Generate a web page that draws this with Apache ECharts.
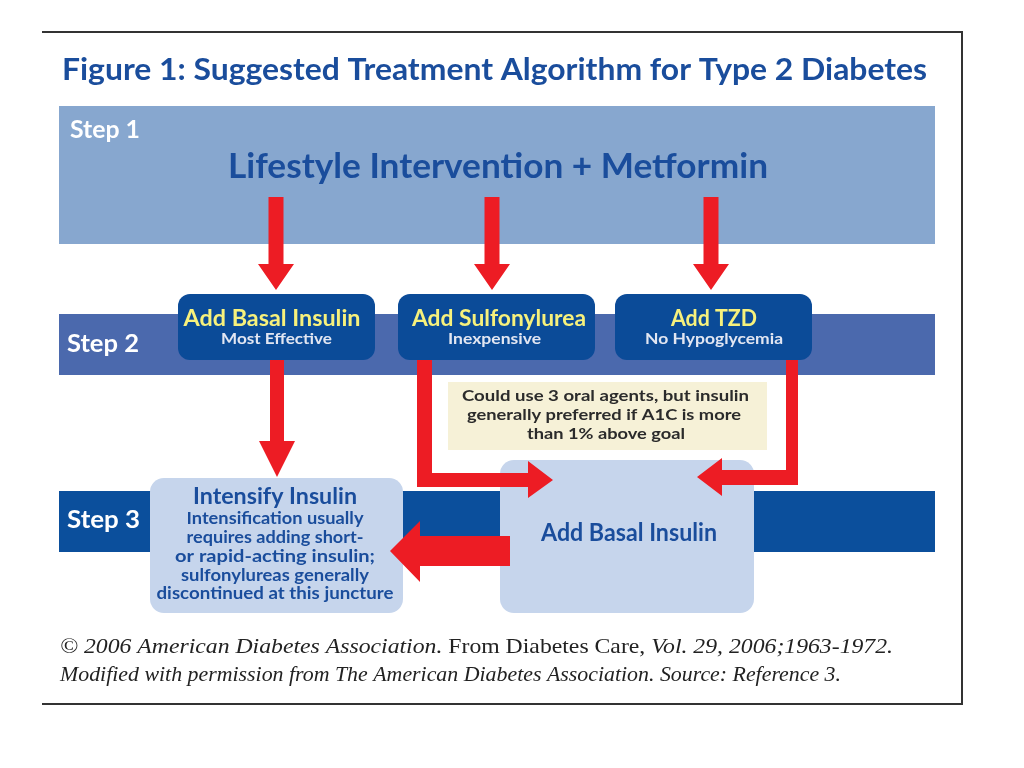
<!DOCTYPE html>
<html>
<head>
<meta charset="utf-8">
<script src="https://cdn.jsdelivr.net/npm/echarts@6/dist/echarts.min.js"></script>
<style>
html,body{margin:0;padding:0;background:#fff;}
#chart{width:1024px;height:768px;}
</style>
</head>
<body>
<div id="chart"></div>
<script>
// ---- content ----
var titleText = 'Figure 1: Suggested Treatment Algorithm for Type 2 Diabetes';
var stepLabels = ['Step 1', 'Step 2', 'Step 3'];
var step1Text = 'Lifestyle Intervention + Metformin';
var step2Titles = ['Add Basal Insulin', 'Add Sulfonylurea', 'Add TZD'];
var step2Subtitles = ['Most Effective', 'Inexpensive', 'No Hypoglycemia'];
var noteLines = ['Could use 3 oral agents, but insulin', 'generally preferred if A1C is more', 'than 1% above goal'];
var intensifyTitle = 'Intensify Insulin';
var intensifyLines = ['Intensification usually', 'requires adding short-', 'or rapid-acting insulin;', 'sulfonylureas generally', 'discontinued at this juncture'];
var basalText = 'Add Basal Insulin';
var footerParts = [
  ['i', '\u00A9 2006 American Diabetes Association. '],
  ['n', 'From Diabetes Care, '],
  ['i', 'Vol. 29, 2006;1963-1972.']
];
var footerLine2 = 'Modified with permission from The American Diabetes Association. Source: Reference 3.';

// ---- style ----
var C = {
  band1: '#87a7cf', band2: '#4b69ad', band3: '#0b4f9c',
  darkBox: '#0b4b98', lightBox: '#c6d5ec', note: '#f6f1d7',
  red: '#ed1c24', blue: '#1a4d9c', yellow: '#f7f17c', sub: '#e2e6f2',
  frame: '#333333'
};
var SANS = 'Lato, "Open Sans", sans-serif';
var SERIF = '"Liberation Serif", serif';

var mctx = document.createElement('canvas').getContext('2d');
function measure(s, font) { mctx.font = font; return mctx.measureText(s).width; }

function rect(x, y, w, h, fill, r) {
  return {type: 'rect', shape: {x: x, y: y, width: w, height: h, r: r || 0}, style: {fill: fill}};
}
function poly(pts, fill) {
  return {type: 'polygon', shape: {points: pts}, style: {fill: fill}};
}
// text fitted horizontally to a target width
function ftxt(s, x, y, size, fill, width, opt) {
  opt = opt || {};
  var font = (opt.italic ? 'italic ' : 'normal ') + (opt.weight || 'bold') + ' ' + size + 'px ' + (opt.family || SANS);
  var sx = width ? width / measure(s, font) : 1;
  return {type: 'text', x: x, y: y, scaleX: sx, style: {
    text: s, x: 0, y: 0, fill: fill, font: font,
    align: opt.align || 'center', verticalAlign: 'middle'
  }};
}
function downArrow(cx, top, headY, tip, sw, hw) {
  return poly([[cx - sw/2, top], [cx + sw/2, top], [cx + sw/2, headY], [cx + hw/2, headY],
               [cx, tip], [cx - hw/2, headY], [cx - sw/2, headY]], C.red);
}

var els = [];
// frame
els.push({type: 'polyline', shape: {points: [[42, 32], [962, 32], [962, 704], [42, 704]]},
  style: {stroke: C.frame, lineWidth: 2, fill: null}});

// title
els.push(ftxt(titleText, 62, 70, 30, C.blue, 865, {align: 'left'}));

// bands
els.push(rect(59, 106, 876, 138, C.band1));
els.push(rect(59, 314, 876, 61, C.band2));
els.push(rect(59, 491, 876, 61, C.band3));

// step labels
els.push(ftxt(stepLabels[0], 70, 130, 24, '#ffffff', 70, {align: 'left'}));
els.push(ftxt(stepLabels[1], 67, 344, 24, '#ffffff', 72, {align: 'left'}));
els.push(ftxt(stepLabels[2], 67, 520, 24, '#ffffff', 73, {align: 'left'}));

// step 1 text
els.push(ftxt(step1Text, 498, 167, 35, C.blue, 540));

// step 3 light boxes
els.push(rect(150, 478, 253, 135, C.lightBox, 14));
els.push(rect(500, 460, 254, 153, C.lightBox, 14));

// arrows from step 1
[276, 492, 711].forEach(function (cx) {
  els.push(downArrow(cx, 197, 264, 290, 15, 36));
});
// arrow from box 1 down
els.push(downArrow(277, 355, 441, 477, 14, 36));
// elbow arrow from box 2 (right-pointing)
els.push(poly([[417, 355], [432, 355], [432, 473], [528, 473], [528, 461], [553, 480],
               [528, 498], [528, 487], [417, 487]], C.red));
// elbow arrow from box 3 (left-pointing)
els.push(poly([[798, 355], [786, 355], [786, 470], [722, 470], [722, 458], [697, 477],
               [722, 496], [722, 485], [798, 485]], C.red));
// left arrow step 3
els.push(poly([[510, 536], [420, 536], [420, 521], [390, 551], [420, 582], [420, 566], [510, 566]], C.red));

// step 2 dark boxes
var boxX = [178, 398, 615];
var titleCx = [272, 499, 714], titleW = [177, 174, 86];
var subCx = [276.5, 494.5, 714], subW = [111, 93, 138];
boxX.forEach(function (x, i) {
  els.push(rect(x, 294, 197, 66, C.darkBox, 12));
  els.push(ftxt(step2Titles[i], titleCx[i], 319, 22, C.yellow, titleW[i]));
  els.push(ftxt(step2Subtitles[i], subCx[i], 339, 16, C.sub, subW[i]));
});

// note
els.push(rect(448, 382, 319, 68, C.note));
var noteW = [287, 274, 158], noteCx = [605.5, 604, 606];
noteLines.forEach(function (s, i) {
  els.push(ftxt(s, noteCx[i], 396 + i * 19, 16, '#2b2b2b', noteW[i]));
});

// intensify box text
els.push(ftxt(intensifyTitle, 275, 497, 23, C.blue, 164));
var intW = [177, 177, 200, 188, 237];
intensifyLines.forEach(function (s, i) {
  els.push(ftxt(s, 275, 519 + i * 18.7, 17, C.blue, intW[i]));
});
// basal text
els.push(ftxt(basalText, 629, 533, 24, C.blue, 176));

// footer line 1 (mixed italic / upright), fitted to width
var fSize = 22;
var fFonts = {i: 'italic normal ' + fSize + 'px ' + SERIF, n: 'normal normal ' + fSize + 'px ' + SERIF};
var totalW = footerParts.reduce(function (a, p) { return a + measure(p[1], fFonts[p[0]]); }, 0);
var fsx = 833 / totalW, cursor = 60;
footerParts.forEach(function (p) {
  els.push({type: 'text', x: cursor, y: 647, scaleX: fsx, style: {
    text: p[1], x: 0, y: 0, font: fFonts[p[0]], fill: '#222', align: 'left', verticalAlign: 'middle'
  }});
  cursor += measure(p[1], fFonts[p[0]]) * fsx;
});
els.push(ftxt(footerLine2, 60, 675, fSize, '#222', 781, {italic: true, weight: 'normal', family: SERIF, align: 'left'}));

var chart = echarts.init(document.getElementById('chart'), null, {renderer: 'canvas'});
chart.setOption({animation: false, graphic: {elements: els}});
</script>
</body>
</html>
